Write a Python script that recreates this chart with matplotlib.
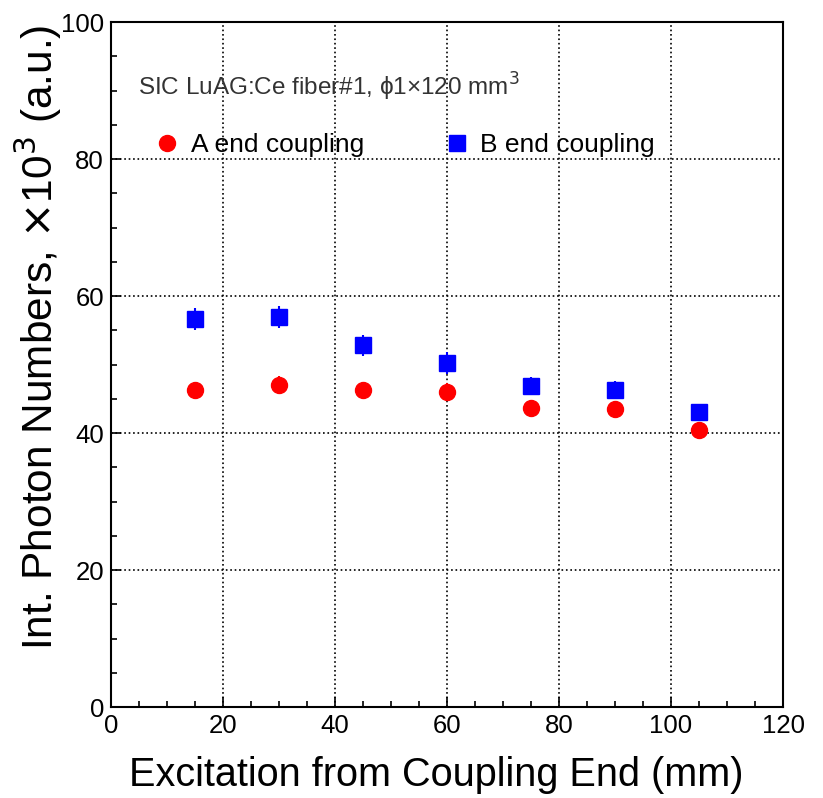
import matplotlib
matplotlib.use("Agg")
import matplotlib.pyplot as plt
from matplotlib.ticker import MultipleLocator

plt.rcParams["font.family"] = ["Liberation Sans", "DejaVu Sans"]

# excitation positions (mm)
pos = [15, 30, 45, 60, 75, 90, 105]
# integrated photon numbers (x10^3, a.u.)
a_end = [46.3, 47.0, 46.3, 46.0, 43.6, 43.5, 40.4]
a_err = [1.2, 1.3, 1.2, 1.3, 1.0, 1.0, 0.9]
b_end = [56.6, 56.9, 52.8, 50.2, 46.9, 46.3, 43.1]
b_err = [1.6, 1.6, 1.5, 1.6, 1.3, 1.3, 1.2]

fig = plt.figure(figsize=(8.23, 7.98), dpi=100)
ax = fig.add_axes([0.1349, 0.114, 0.8165, 0.8584])

ea = ax.errorbar(pos, a_end, yerr=a_err, fmt="o", color="#ff0000", ms=11.5,
                 elinewidth=1.5, capsize=0, label="A end coupling", zorder=3)
eb = ax.errorbar(pos, b_end, yerr=b_err, fmt="s", color="#0000ff", ms=11,
                 elinewidth=1.5, capsize=0, label="B end coupling", zorder=3)

ax.set_xlim(0, 120)
ax.set_ylim(0, 100)
ax.xaxis.set_major_locator(MultipleLocator(20))
ax.xaxis.set_minor_locator(MultipleLocator(5))
ax.yaxis.set_major_locator(MultipleLocator(20))
ax.yaxis.set_minor_locator(MultipleLocator(5))
ax.tick_params(which="both", direction="in", labelsize=18.5, width=1.2, pad=5)
ax.tick_params(which="major", length=7)
ax.tick_params(which="minor", length=4)
ax.grid(which="major", linestyle=":", color="black", linewidth=1.2)
for s in ax.spines.values():
    s.set_linewidth(1.5)

ax.set_xlabel("Excitation from Coupling End (mm)", fontsize=28.5)
ax.xaxis.set_label_coords(0.484, -0.072)
ax.set_ylabel("Int. Photon Numbers, $\\times$10$^3$ (a.u.)", fontsize=30.5)
ax.yaxis.set_label_coords(-0.07, 0.54)

ax.text(0.04, 0.906, "SIC LuAG:Ce fiber#1, \u03d51\u00d7120 mm$^3$",
        transform=ax.transAxes, fontsize=17.5, va="center", ha="left", color="#333333")

ax.legend(handles=[ea.lines[0], eb.lines[0]], labels=["A end coupling", "B end coupling"],
          loc="center left", bbox_to_anchor=(0.06, 0.82), ncol=2, frameon=False,
          fontsize=19, handlelength=1.2, handletextpad=0.3, columnspacing=2.9,
          borderaxespad=0, borderpad=0)

fig.savefig("out.png", dpi=100)
